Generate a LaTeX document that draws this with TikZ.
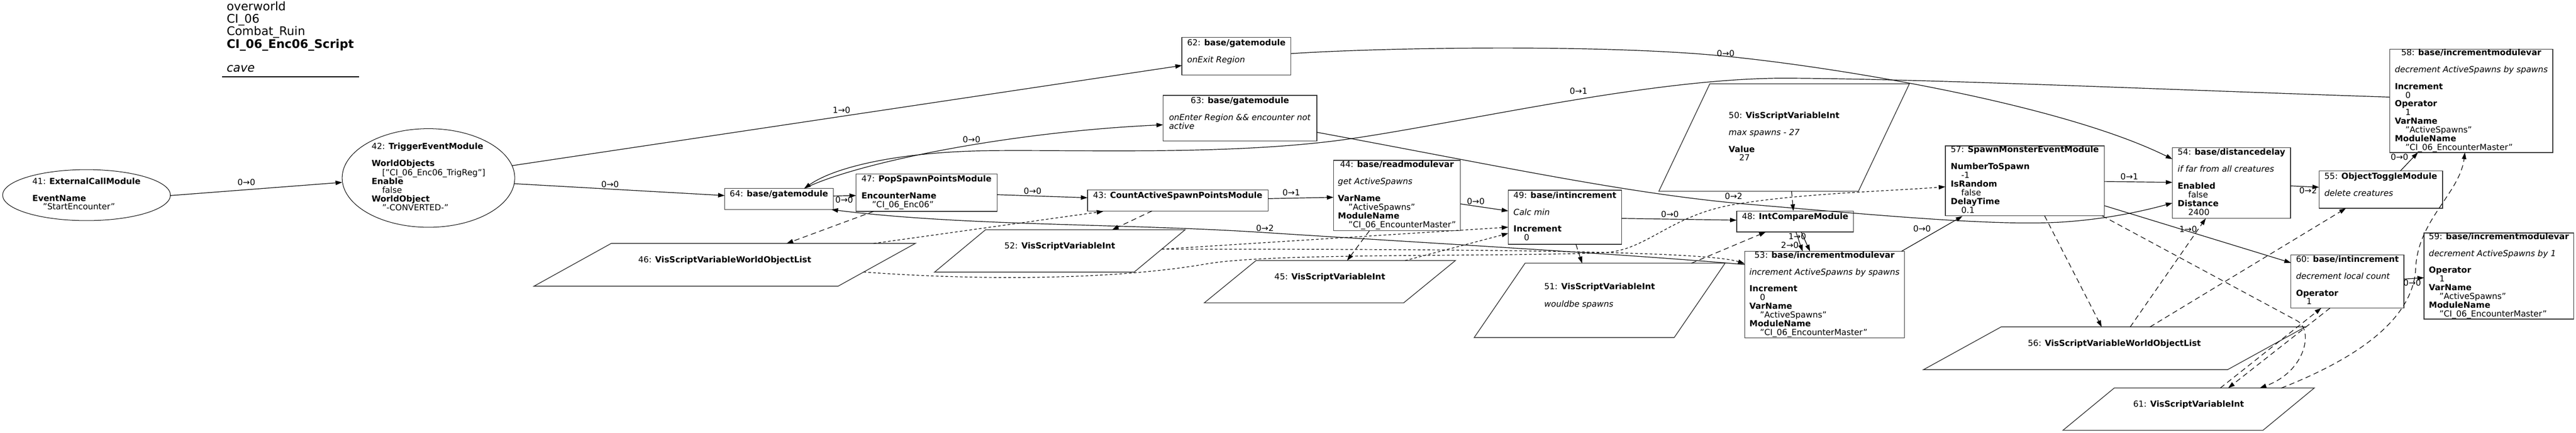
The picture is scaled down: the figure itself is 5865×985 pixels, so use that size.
\documentclass[tikz,border=0pt]{standalone}
\usepackage{fontspec}
\setmainfont{DejaVu Sans}
\usetikzlibrary{shapes.geometric,arrows.meta,calc}
\newcommand{\ttl}[1]{\multicolumn{1}{@{}c@{}}{#1}}
\newcommand{\ind}{\hspace*{24pt}}
\newcommand{\tb}[1]{\begin{tabular}{@{}l@{}}#1\end{tabular}}
\newcommand{\parag}[2]{\draw[pshape] ($(#1.north west)+(#2,0)$) -- ($(#1.north east)+(#2,0)$) -- ($(#1.south east)-(#2,0)$) -- ($(#1.south west)-(#2,0)$) -- cycle;}
\tikzset{
  txt/.style={font=\fontsize{19}{18.7}\selectfont, inner sep=0pt},
  box/.style={txt, draw=black!80, line width=1.6pt},
  ell/.style={txt, ellipse, draw=black, line width=1.2pt},
  para/.style={txt, draw=none},
  pshape/.style={draw=black!80, line width=1.6pt},
  edge/.style={line width=1.4pt, -{Triangle[length=15pt,width=10pt]}},
  dedge/.style={edge, dash pattern=on 12pt off 8pt},
  sedge/.style={edge, dash pattern=on 6pt off 5pt},
  lbl/.style={font=\fontsize{19}{19}\selectfont, inner sep=0pt}
}
\begin{document}
\begin{tikzpicture}[x=1pt,y=-1pt]
\fill[white] (0,0) rectangle (5865,985);
\useasboundingbox (0,0) rectangle (5865,985);

% title
\node[anchor=west, font=\fontsize{27}{27}\selectfont, inner sep=0pt] (title) at (516,87.5)
  {\tb{overworld\\ CI\_06\\ Combat\_Ruin\\ \textbf{CI\_06\_Enc06\_Script}\\ \\ \textit{cave}}};
\draw[line width=2pt] (506,175) -- (817,175);

% ellipses
\node[ell, minimum width=382pt, minimum height=116pt] (n41) at (197,444)
  {\tb{41: \textbf{ExternalCallModule}\\ \\ \textbf{EventName}\\ \ind"StartEncounter"}};
\node[ell, minimum width=393pt, minimum height=224pt] (n42) at (975.5,405)
  {\tb{42: \textbf{TriggerEventModule}\\ \\ \textbf{WorldObjects}\\ \ind["CI\_06\_Enc06\_TrigReg"]\\ \textbf{Enable}\\ \ind false\\ \textbf{WorldObject}\\ \ind"-CONVERTED-"}};

% boxes
\node[box, minimum width=247pt, minimum height=48pt] (n64) at (1773.5,453)
  {\tb{64: \textbf{base/gatemodule}\\ \strut}};
\node[box, minimum width=321pt, minimum height=85pt] (n47) at (2109.5,438.5)
  {\tb{47: \textbf{PopSpawnPointsModule}\\ \\ \textbf{EncounterName}\\ \ind"CI\_06\_Enc06"}};
\node[box, minimum width=411pt, minimum height=48pt] (n43) at (2681.5,456)
  {\tb{43: \textbf{CountActiveSpawnPointsModule}\\ \strut}};
\node[box, minimum width=289pt, minimum height=160pt] (n44) at (3180.5,445)
  {\tb{\ttl{44: \textbf{base/readmodulevar}}\\ \\ \textit{get ActiveSpawns}\\ \\ \textbf{VarName}\\ \ind"ActiveSpawns"\\ \textbf{ModuleName}\\ \ind"CI\_06\_EncounterMaster"}};
\node[box, minimum width=248pt, minimum height=86pt] (n62) at (2815,128)
  {\tb{\ttl{62: \textbf{base/gatemodule}}\\ \\ \textit{onExit Region}\\ \strut}};
\node[box, minimum width=350pt, minimum height=104pt] (n63) at (2823,269)
  {\tb{\ttl{63: \textbf{base/gatemodule}}\\ \\ \textit{onEnter Region \&\& encounter not}\\ \textit{active}\\ \strut}};
\node[box, minimum width=258pt, minimum height=123pt] (n49) at (3563,494.5)
  {\tb{\ttl{49: \textbf{base/intincrement}}\\ \\ \textit{Calc min}\\ \\ \textbf{Increment}\\ \ind 0}};
\node[box, minimum width=266pt, minimum height=48pt] (n48) at (4087,504)
  {\tb{48: \textbf{IntCompareModule}\\ \strut}};
\node[box, minimum width=364pt, minimum height=197pt] (n53) at (4154,670.5)
  {\tb{\ttl{53: \textbf{base/incrementmodulevar}}\\ \\ \textit{increment ActiveSpawns by spawns}\\ \\ \textbf{Increment}\\ \ind 0\\ \textbf{VarName}\\ \ind"ActiveSpawns"\\ \textbf{ModuleName}\\ \ind"CI\_06\_EncounterMaster"}};
\node[box, minimum width=362pt, minimum height=159pt] (n57) at (4610,411.5)
  {\tb{\ttl{57: \textbf{SpawnMonsterEventModule}}\\ \\ \textbf{NumberToSpawn}\\ \ind -1\\ \textbf{IsRandom}\\ \ind false\\ \textbf{DelayTime}\\ \ind 0.1}};
\node[box, minimum width=269pt, minimum height=161pt] (n54) at (5080.5,416.5)
  {\tb{\ttl{54: \textbf{base/distancedelay}}\\ \\ \textit{if far from all creatures}\\ \\ \textbf{Enabled}\\ \ind false\\ \textbf{Distance}\\ \ind 2400}};
\node[box, minimum width=281pt, minimum height=85pt] (n55) at (5420.5,431.5)
  {\tb{\ttl{55: \textbf{ObjectToggleModule}}\\ \\ \textit{delete creatures}\\ \strut}};
\node[box, minimum width=371pt, minimum height=235pt] (n58) at (5626.5,229.5)
  {\tb{\ttl{58: \textbf{base/incrementmodulevar}}\\ \\ \textit{decrement ActiveSpawns by spawns}\\ \\ \textbf{Increment}\\ \ind 0\\ \textbf{Operator}\\ \ind 1\\ \textbf{VarName}\\ \ind"ActiveSpawns"\\ \textbf{ModuleName}\\ \ind"CI\_06\_EncounterMaster"}};
\node[box, minimum width=257pt, minimum height=121pt] (n60) at (5344.5,640.5)
  {\tb{\ttl{60: \textbf{base/intincrement}}\\ \\ \textit{decrement local count}\\ \\ \textbf{Operator}\\ \ind 1}};
\node[box, minimum width=341pt, minimum height=196pt] (n59) at (5689.5,628)
  {\tb{\ttl{59: \textbf{base/incrementmodulevar}}\\ \\ \textit{decrement ActiveSpawns by 1}\\ \\ \textbf{Operator}\\ \ind 1\\ \textbf{VarName}\\ \ind"ActiveSpawns"\\ \textbf{ModuleName}\\ \ind"CI\_06\_EncounterMaster"}};

% parallelograms
\node[para, minimum width=454pt, minimum height=244pt] (n50) at (4062,313)
  {\tb{\ttl{50: \textbf{VisScriptVariableInt}}\\ \\ \textit{max spawns - 27}\\ \\ \textbf{Value}\\ \ind 27}};
\parag{n50}{58}
\node[para, minimum width=455pt, minimum height=169pt] (n51) at (3642,683.5)
  {\tb{\ttl{51: \textbf{VisScriptVariableInt}}\\ \\ \textit{wouldbe spawns}\\ \strut}};
\parag{n51}{58}
\node[para, minimum width=453.5pt, minimum height=96pt] (n45) at (3027.75,641)
  {\tb{\ttl{45: \textbf{VisScriptVariableInt}}\\ \strut}};
\parag{n45}{59}
\node[para, minimum width=454pt, minimum height=96pt] (n52) at (2413,571)
  {\tb{\ttl{52: \textbf{VisScriptVariableInt}}\\ \strut}};
\parag{n52}{58}
\node[para, minimum width=692pt, minimum height=97pt] (n46) at (1650,602.5)
  {\tb{\ttl{46: \textbf{VisScriptVariableWorldObjectList}}\\ \strut}};
\parag{n46}{88}
\node[para, minimum width=692pt, minimum height=97pt] (n56) at (4814,792.5)
  {\tb{\ttl{56: \textbf{VisScriptVariableWorldObjectList}}\\ \strut}};
\parag{n56}{88.5}
\node[para, minimum width=455pt, minimum height=96pt] (n61) at (4983,931)
  {\tb{\ttl{61: \textbf{VisScriptVariableInt}}\\ \strut}};
\parag{n61}{58.5}

% solid edges
\draw[edge] ($(n41)+(191,1)$) -- ($(n42)+(-196.5,10)$);
\draw[edge] ($(n42)+(195,13)$) -- ($(n64)+(-123.5,-8)$);
\draw[edge] ($(n42)+(190,-28)$) -- ($(n62)+(-124,21)$);
\draw[edge] ($(n64)+(123.5,-7)$) -- ($(n47)+(-160.5,6.5)$);
\draw[edge] ($(n47)+(160.5,4.5)$) -- ($(n43)+(-205.5,-6)$);
\draw[edge] ($(n43)+(205.5,-4)$) -- ($(n44)+(-144.5,4)$);
\draw[edge] ($(n44)+(144.5,19)$) -- ($(n49)+(-129,-14.5)$);
\draw[edge] ($(n49)+(129,2.5)$) -- ($(n48)+(-133,-3)$);
\draw[edge] ($(n48)+(14,24)$) -- ($(n53)+(-33,-98.5)$);
\draw[edge] ($(n48)+(2,24)$) -- ($(n53)+(-50,-98.5)$);
\draw[edge] ($(n53)+(175,-98.5)$) -- ($(n57)+(-142,80.5)$);
\draw[edge] ($(n57)+(181,1.5)$) -- ($(n54)+(-134.5,-1.5)$);
\draw[edge] ($(n57)+(181,56.5)$) -- ($(n60)+(-128.5,-42.5)$);
\draw[edge] ($(n54)+(134.5,6.5)$) -- ($(n55)+(-140.5,-5.5)$);
\draw[edge] ($(n55)+(44.5,-42.5)$) -- ($(n58)+(-121.5,117.5)$);
\draw[edge] ($(n60)+(128.5,-5.5)$) -- ($(n59)+(-170.5,4)$);
\draw[edge] ($(n62)+(124,-6)$) .. controls (3150,108) and (3650,100) .. (3929,128)
  .. controls (4200,155) and (4700,240) .. ($(n54)+(-134.5,-54.5)$);
\draw[edge] ($(n58)+(-185.5,-8.5)$) .. controls (4900,203) and (4400,180) .. (4076,178)
  .. controls (3776,175) and (3350,275) .. (3080,315)
  .. controls (2810,355) and (2450,340) .. (2246,343)
  .. controls (2046,346) and (1900,380) .. ($(n64)+(57.5,-24)$);
\draw[edge] ($(n64)+(57.5,-24)$) .. controls (1950,370) and (2300,300) .. ($(n63)+(-175,15)$);
\draw[edge] ($(n63)+(175,32)$) .. controls (3400,375) and (3700,440) .. (3971,464)
  .. controls (4300,492) and (4550,515) .. (4700,505)
  .. controls (4800,498) and (4880,480) .. ($(n54)+(-134.5,45.5)$);
\draw[edge] ($(n53)+(-182,-68.5)$) .. controls (3700,578) and (3200,550) .. (2876,529)
  .. controls (2552,508) and (2200,515) .. ($(n64)+(119.5,24)$);

% dashed edges
\draw[dedge] ($(n47)+(-120.5,42.5)$) -- ($(n46)+(141,-48.5)$);
\draw[sedge] ($(n46)+(339,-48.5)$) -- ($(n43)+(-169.5,25)$);
\draw[dedge] ($(n43)+(-58.5,24)$) -- ($(n52)+(119,-48)$);
\draw[dedge] ($(n44)+(-62.5,80)$) -- ($(n45)+(39.25,-48)$);
\draw[sedge] ($(n45)+(171.25,-48)$) -- ($(n49)+(-129,36.5)$);
\draw[sedge] ($(n52)+(232,-4)$) -- ($(n49)+(-129,22.5)$);
\draw[sedge] ($(n52)+(232,-4)$) .. controls (3300,567) and (3880,570) .. ($(n53)+(-182,-70.5)$);
\draw[sedge] ($(n46)+(316,16.5)$) .. controls (2250,640) and (2550,635) .. (2750,600)
  .. controls (2900,575) and (3400,585) .. (3650,575)
  .. controls (3750,571) and (3800,490) .. (3950,465)
  .. controls (4100,440) and (4300,435) .. ($(n57)+(-181,13.5)$);
\draw[dedge] ($(n49)+(25,61.5)$) -- ($(n51)+(-40,-84.5)$);
\draw[dedge] ($(n51)+(209,-84.5)$) -- ($(n48)+(-67,24)$);
\draw[dedge] ($(n50)+(17,122)$) -- ($(n48)+(-4,-24)$);
\draw[dedge] ($(n57)+(45,79.5)$) -- ($(n56)+(-29,-48.5)$);
\draw[dedge] ($(n56)+(36,-48.5)$) -- ($(n54)+(-58.5,80.5)$);
\draw[dedge] ($(n56)+(81,-48.5)$) -- ($(n55)+(-79.5,42.5)$);
\draw[dedge] ($(n57)+(176,79.5)$) -- (5230,730) .. controls (5268,751) and (5250,845) .. ($(n61)+(162,-48)$);
\draw[dedge] ($(n61)+(72,-48)$) -- ($(n60)+(-59.5,60.5)$);
\draw[dedge] ($(n60)+(-39.5,60.5)$) -- ($(n61)+(90,-48)$);
\draw[dedge] ($(n61)+(211,-48)$) .. controls (5380,810) and (5495,720) .. (5500,610)
  .. controls (5505,500) and (5600,440) .. ($(n58)+(-14.5,117.5)$);

% labels
\node[lbl] (l1) at (561,415) {0→0};
\node[lbl] (l2) at (1389,420) {0→0};
\node[lbl] (l3) at (1916,250) {1→0};
\node[lbl] (l4) at (1922,455) {0→0};
\node[lbl] (l5) at (2351,435) {0→0};
\node[lbl] (l6) at (2940,438) {0→1};
\node[lbl] (l7) at (3360,458) {0→0};
\node[lbl] (l8) at (3802,487) {0→0};
\node[lbl] (l9) at (4092,538) {1→0};
\node[lbl] (l10) at (4075,558) {2→0};
\node[lbl] (l11) at (4376,520) {0→0};
\node[lbl] (l12) at (4848,402) {0→1};
\node[lbl] (l13) at (4982,522) {1→0};
\node[lbl] (l14) at (5255,433) {0→2};
\node[lbl] (l15) at (5463,357) {0→0};
\node[lbl] (l16) at (5492,643) {0→0};
\node[lbl] (l17) at (3929,122) {0→0};
\node[lbl] (l18) at (3594,207) {0→1};
\node[lbl] (l19) at (2212,318) {0→0};
\node[lbl] (l20) at (3947,447) {0→2};
\node[lbl] (l21) at (2880,519) {0→2};
\end{tikzpicture}
\end{document}
